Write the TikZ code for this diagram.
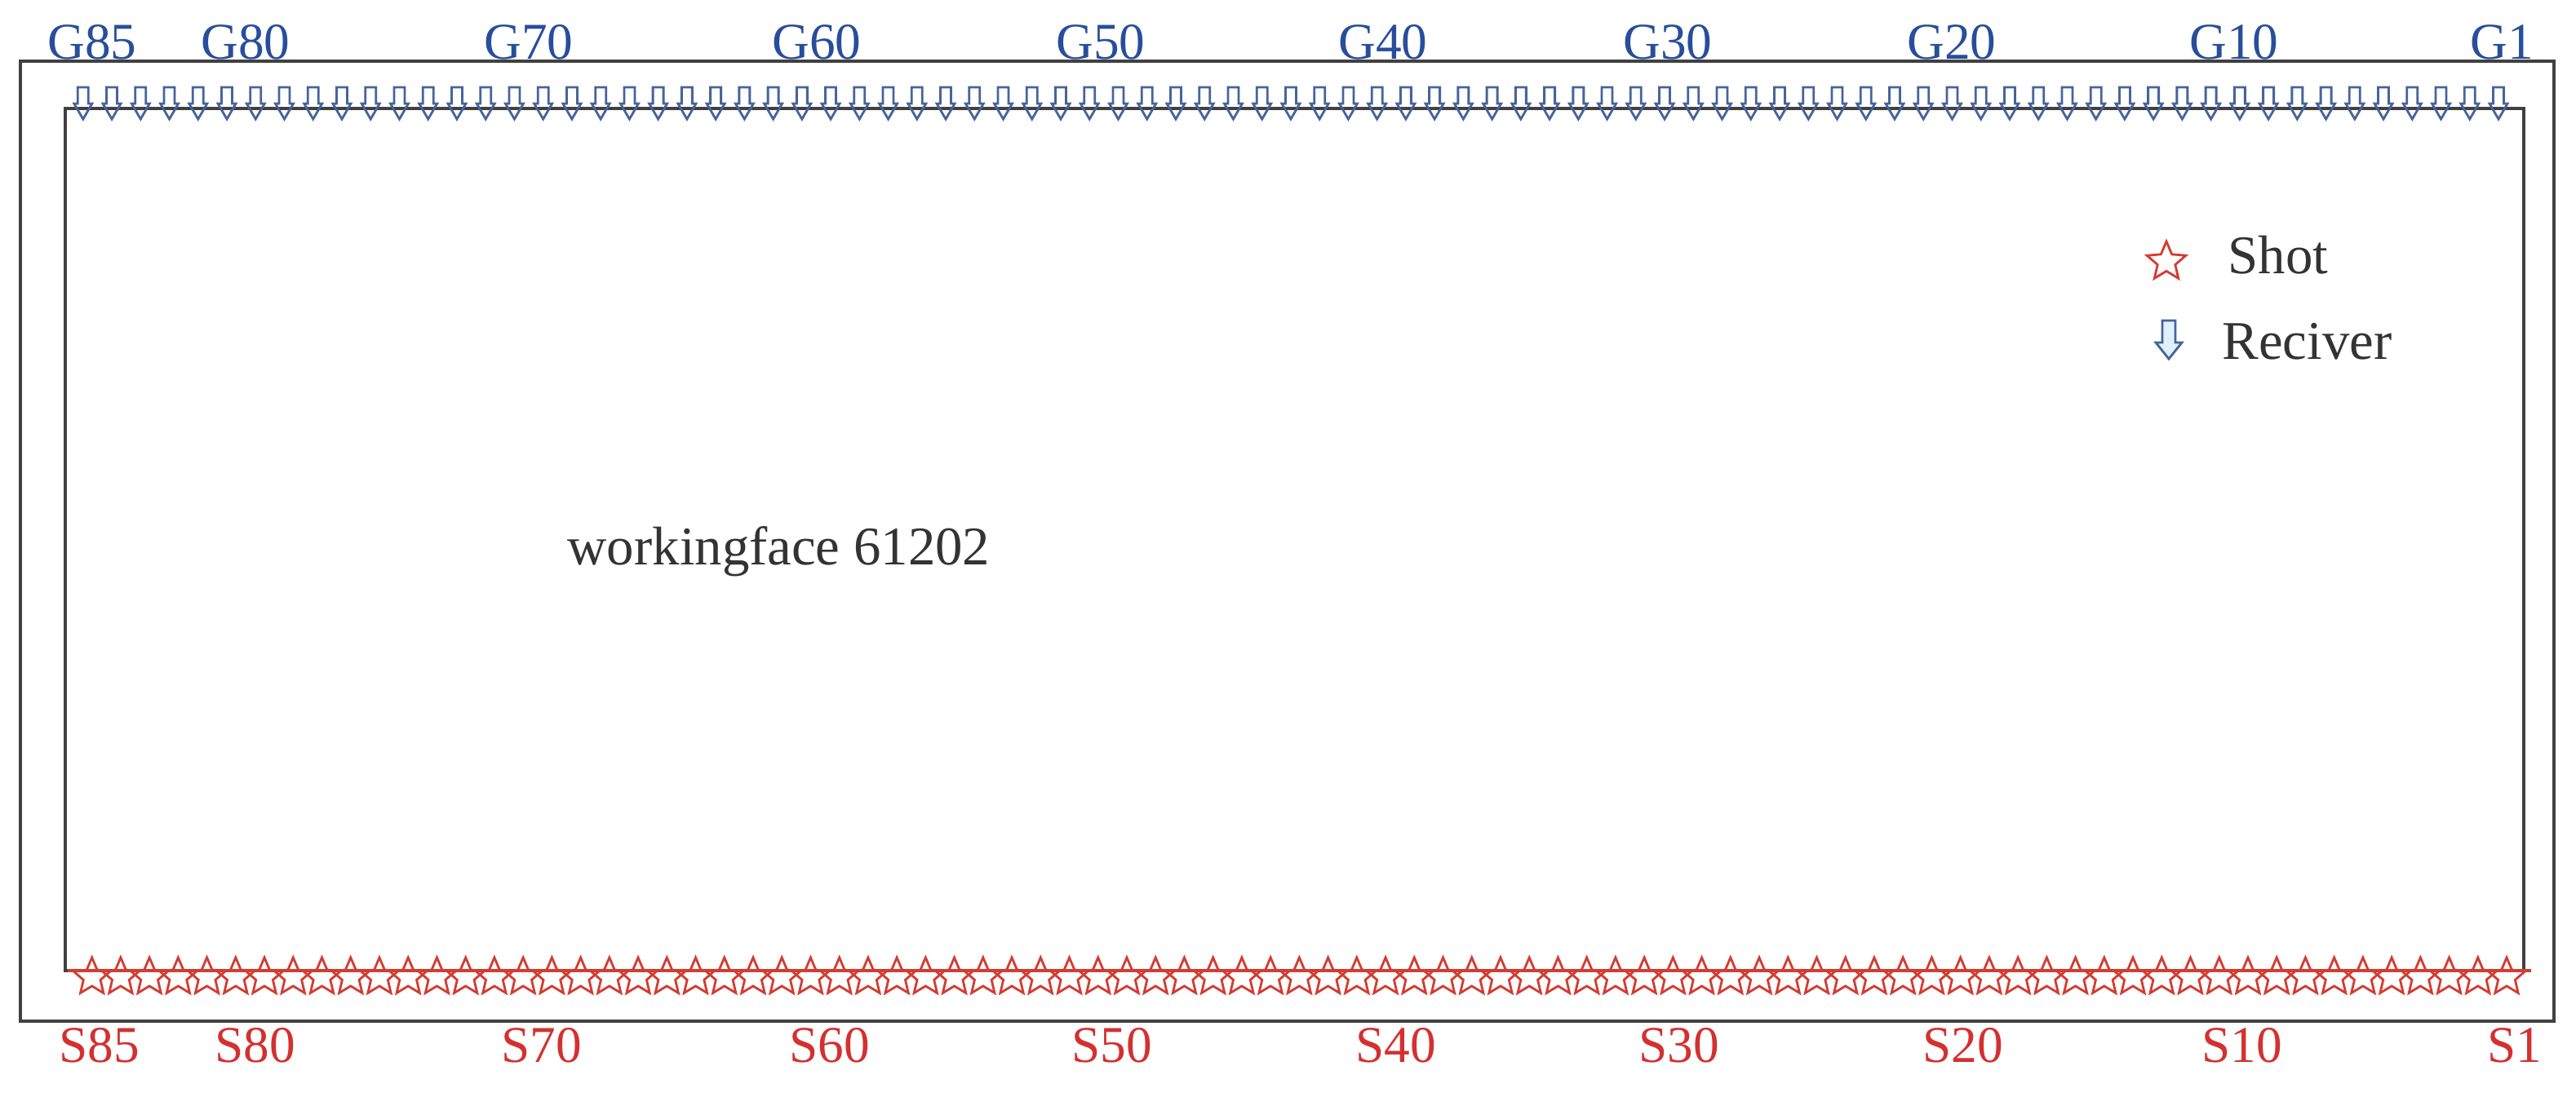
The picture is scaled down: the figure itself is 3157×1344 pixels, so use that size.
\documentclass[tikz,border=0pt]{standalone}
\usepackage{fontspec}
\setmainfont{Liberation Serif}
\usetikzlibrary{shapes.geometric}
\definecolor{gblue}{RGB}{40,78,155}
\definecolor{sred}{RGB}{212,48,48}
\definecolor{recvcol}{RGB}{70,100,155}
\definecolor{starcol}{RGB}{212,60,50}
\definecolor{framecol}{RGB}{64,64,64}
\definecolor{legfill}{RGB}{225,240,255}
\tikzset{
  frame/.style={draw=framecol, line width=1.2pt},
  redline/.style={draw=starcol, line width=1.1pt},
  glabel/.style={text=gblue, anchor=base, font=\fontsize{18}{20}\selectfont, inner sep=0pt},
  slabel/.style={text=sred, anchor=base, font=\fontsize{18}{20}\selectfont, inner sep=0pt},
  shotstar/.style={star, star points=5, star point ratio=2.2, minimum size=0.48cm, inner sep=0pt, draw=starcol, line width=0.8pt},
  legtext/.style={text=black!80, anchor=base west, font=\fontsize{19}{22}\selectfont, inner sep=0pt},
  recv/.pic={\draw[recvcol, line width=0.8pt] (-6.5,-20) -- (6.5,-20) -- (6.5,0) -- (11,0) -- (0,19) -- (-11,0) -- (-6.5,0) -- cycle;},
  legrecv/.pic={\draw[recvcol, fill=legfill, line width=0.8pt] (-8,-27) -- (8,-27) -- (8,0) -- (16,0) -- (0,20) -- (-16,0) -- (-8,0) -- cycle;}
}
\begin{document}
\begin{tikzpicture}[x=0.01cm,y=-0.01cm]
\useasboundingbox (0,0) rectangle (3157,1344);
\fill[white] (0,0) rectangle (3157,1344);
% frames
\draw[frame] (25,75) rectangle (3130,1252);
\draw[frame] (80,133) rectangle (3093,1190);
% receivers
\foreach \i in {1,...,85} {
  \pgfmathsetmacro\xr{3062-(\i-1)*35.24}
  \pic (r\i) at (\xr,127) {recv};
}
% shots
\draw[redline] (83,1190) -- (3102,1190);
\foreach \i in {1,...,85} {
  \pgfmathsetmacro\xs{3072-(\i-1)*35.23}
  \node[shotstar] (s\i) at (\xs,1198) {};
}
% G labels
\node[glabel] (g85) at (113,72) {G85};
\node[glabel] (g80) at (301,72) {G80};
\node[glabel] (g70) at (648,72) {G70};
\node[glabel] (g60) at (1001,72) {G60};
\node[glabel] (g50) at (1349,72) {G50};
\node[glabel] (g40) at (1695,72) {G40};
\node[glabel] (g30) at (2044,72) {G30};
\node[glabel] (g20) at (2392,72) {G20};
\node[glabel] (g10) at (2738,72) {G10};
\node[glabel] (g1) at (3066,72) {G1};
% S labels
\node[slabel] (l85) at (122,1302) {S85};
\node[slabel] (l80) at (313,1302) {S80};
\node[slabel] (l70) at (664,1302) {S70};
\node[slabel] (l60) at (1017,1302) {S60};
\node[slabel] (l50) at (1363,1302) {S50};
\node[slabel] (l40) at (1711,1302) {S40};
\node[slabel] (l30) at (2058,1302) {S30};
\node[slabel] (l20) at (2406,1302) {S20};
\node[slabel] (l10) at (2748,1302) {S10};
\node[slabel] (l1) at (3082,1302) {S1};
% legend
\node[shotstar, minimum size=0.5cm, fill=white] (legstar) at (2655,321) {};
\node[legtext] (legshot) at (2730,335) {Shot};
\pic (legr) at (2658,420) {legrecv};
\node[legtext] (legrec) at (2723,440) {Reciver};
% title
\node[text=black!80, anchor=base west, font=\fontsize{19}{22}\selectfont, inner sep=0pt] (wf) at (695,692) {workingface 61202};
\end{tikzpicture}
\end{document}
